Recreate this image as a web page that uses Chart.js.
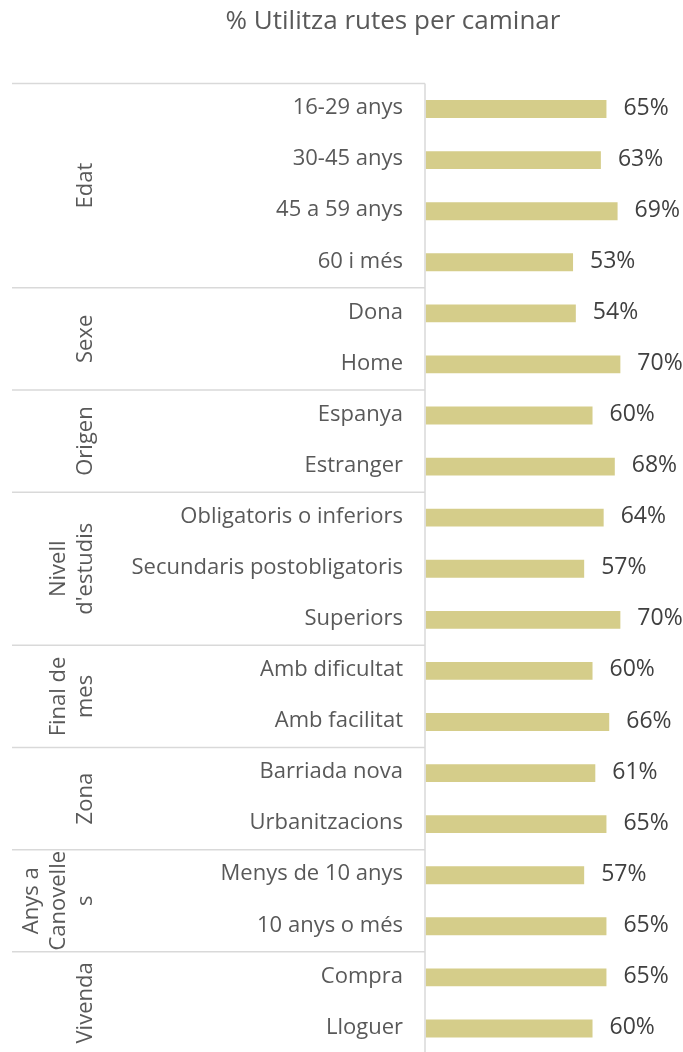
<!DOCTYPE html>
<html>
<head>
<meta charset="utf-8">
<script src="https://cdn.jsdelivr.net/npm/chart.js@4/dist/chart.umd.min.js"></script>
<style>
  html, body { margin: 0; padding: 0; background: #fff; overflow: hidden; }
</style>
</head>
<body>
<canvas id="rutesChart" width="683" height="1054"></canvas>
<script>
// categories, values and the groups they belong to
const categories = [
  '16-29 anys', '30-45 anys', '45 a 59 anys', '60 i més',
  'Dona', 'Home',
  'Espanya', 'Estranger',
  'Obligatoris o inferiors', 'Secundaris postobligatoris', 'Superiors',
  'Amb dificultat', 'Amb facilitat',
  'Barriada nova', 'Urbanitzacions',
  'Menys de 10 anys', '10 anys o més',
  'Compra', 'Lloguer'
];
const values = [65, 63, 69, 53, 54, 70, 60, 68, 64, 57, 70, 60, 66, 61, 65, 57, 65, 65, 60];
const groupLabels = [
  ['Edat'], ['Sexe'], ['Origen'], ['Nivell', "d'estudis"],
  ['Final de', 'mes'], ['Zona'], ['Anys a', 'Canovelle', 's'], ['Vivenda']
];
const groupSizes = [4, 2, 2, 3, 2, 2, 2, 2];
const chartTitle = '% Utilitza rutes per caminar';

const FONT = '"Open Sans", sans-serif';
const GRID = '#d9d9d9';

// draws the title, the two-level category axis and the value labels
const axisPlugin = {
    id: 'groupedAxis',
    afterDraw(chart) {
        const ctx = chart.ctx;
        const area = chart.chartArea;
        const y = chart.scales.y;
        const rowH = (area.bottom - area.top) / categories.length;

        ctx.save();

        // title
        ctx.fillStyle = '#595959';
        ctx.font = '26px ' + FONT;
        ctx.textAlign = 'center';
        ctx.textBaseline = 'middle';
        ctx.fillText(chartTitle, 393, 22);

        // axis line and group separators
        ctx.strokeStyle = GRID;
        ctx.lineWidth = 1.5;
        ctx.beginPath();
        ctx.moveTo(area.left - 0.5, area.top);
        ctx.lineTo(area.left - 0.5, area.bottom);
        let start = 0;
        const bounds = [0];
        groupSizes.forEach(n => { start += n; bounds.push(start); });
        bounds.forEach(b => {
            if (b >= categories.length) return;
            const py = area.top + b * rowH;
            ctx.moveTo(12, py);
            ctx.lineTo(area.left - 0.5, py);
        });
        ctx.stroke();

        // category labels
        ctx.fillStyle = '#595959';
        ctx.font = '22px ' + FONT;
        ctx.textAlign = 'right';
        categories.forEach((c, i) => {
            ctx.fillText(c, 403, y.getPixelForValue(i) - 1);
        });

        // group labels, rotated
        groupLabels.forEach((lines, g) => {
            const top = area.top + bounds[g] * rowH;
            const bottom = area.top + bounds[g + 1] * rowH;
            const cy = (top + bottom) / 2;
            lines.forEach((line, k) => {
                const cx = 86 - (lines.length - 1 - k) * 27;
                ctx.save();
                ctx.translate(cx, cy);
                ctx.rotate(-Math.PI / 2);
                ctx.textAlign = 'center';
                ctx.fillText(line, 0, 0);
                ctx.restore();
            });
        });

        // value labels
        ctx.fillStyle = '#404040';
        ctx.font = '23px ' + FONT;
        ctx.textAlign = 'left';
        chart.getDatasetMeta(0).data.forEach((bar, i) => {
            ctx.fillText(values[i] + '%', bar.x + 17, bar.y - 1);
        });

        ctx.restore();
    }
};

const ctx = document.getElementById('rutesChart').getContext('2d');
const rutesChart = new Chart(ctx, {
    type: 'bar',
    data: {
        labels: categories,
        datasets: [{
            data: values,
            backgroundColor: '#d5cd8a',
            borderWidth: 0,
            barPercentage: 0.35,
            categoryPercentage: 1
        }]
    },
    options: {
        indexAxis: 'y',
        responsive: false,
        animation: false,
        layout: {
            padding: { left: 425.5, right: 0, top: 83.5, bottom: 0 }
        },
        plugins: {
            legend: { display: false },
            tooltip: { enabled: false }
        },
        scales: {
            x: { display: false, min: 0, max: 92.5 },
            y: { display: false }
        }
    },
    plugins: [axisPlugin]
});
</script>
</body>
</html>
